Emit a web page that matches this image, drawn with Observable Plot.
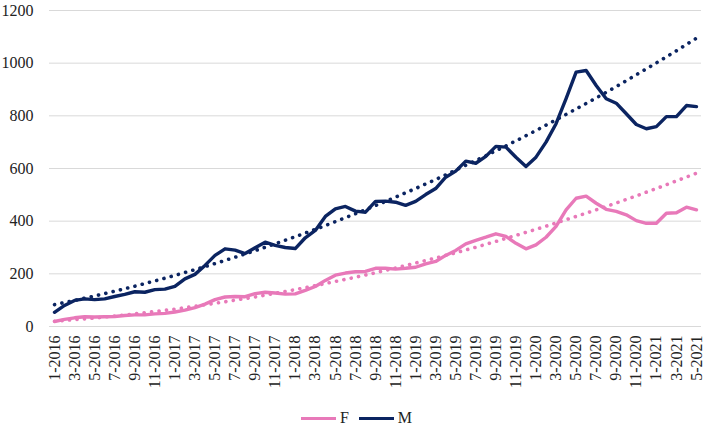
<!DOCTYPE html>
<html>
<head>
<meta charset="utf-8">
<script src="https://cdn.jsdelivr.net/npm/d3@7"></script>
<script src="https://cdn.jsdelivr.net/npm/@observablehq/plot@0.6"></script>
<style>
  html, body { margin: 0; padding: 0; background: #fff; }
  #chart { width: 709px; height: 431px; font-family: "Liberation Serif", "Times New Roman", serif; }
  #chart svg, #chart svg text { font-family: "Liberation Serif", "Times New Roman", serif !important; font-size: 16px !important; }
  #chart svg text { fill: #222; }
  #legend { display: flex; justify-content: center; align-items: center; height: 26px; font-size: 16px; color: #222; gap: 10px; padding-left: 4px; }
  .item { display: flex; align-items: center; }
  .sw { display: inline-block; width: 35px; height: 3px; margin-right: 4px; }
</style>
</head>
<body>
<div id="chart"></div>
<script>
// Month categories (1-2016 .. 5-2021)
const months = [];
for (let y = 2016; y <= 2021; y++) {
  for (let m = 1; m <= 12; m++) {
    if (y === 2021 && m > 5) break;
    months.push(`${m}-${y}`);
  }
}
const seriesNames = ["F", "M"];
const seriesColors = ["#e879b9", "#0b2461"];
const valuesF = [19, 27, 33, 37, 36, 37, 38, 42, 44, 44, 48, 50, 55, 62, 72, 85, 102, 112, 114, 113, 125, 130, 127, 123, 124, 137, 152, 175, 195, 203, 208, 209, 221, 221, 218, 221, 225, 238, 247, 270, 289, 314, 327, 339, 352, 342, 316, 295, 310, 339, 380, 443, 487, 495, 468, 445, 437, 424, 402, 392, 392, 430, 432, 453, 443];
const valuesM = [54, 80, 99, 105, 102, 105, 114, 122, 132, 130, 140, 142, 152, 181, 198, 232, 270, 295, 290, 277, 299, 320, 308, 300, 296, 337, 365, 418, 447, 456, 438, 434, 475, 476, 472, 460, 475, 501, 524, 567, 590, 628, 620, 646, 684, 681, 643, 608, 643, 700, 770, 865, 966, 972, 915, 865, 848, 808, 767, 751, 759, 797, 797, 839, 835];
// Dotted trend lines, read at every labelled month (1-2016, 3-2016, ... 5-2021)
const trendF = [20, 26, 32, 40, 48, 57, 66, 77, 88, 100, 112, 126, 140, 155, 171, 187, 204, 222, 241, 260, 280, 301, 323, 346, 369, 393, 418, 443, 469, 496, 524, 553, 582];
const trendM = [83, 99, 116, 134, 153, 173, 194, 216, 239, 263, 288, 314, 341, 369, 398, 428, 459, 491, 524, 558, 594, 630, 667, 705, 744, 785, 826, 868, 911, 956, 1001, 1047, 1095];
const yTicks = [0, 200, 400, 600, 800, 1000, 1200];

const dataF = valuesF.map((v, i) => ({i, v}));
const dataM = valuesM.map((v, i) => ({i, v}));
const dataTF = trendF.map((v, k) => ({i: 2 * k, v}));
const dataTM = trendM.map((v, k) => ({i: 2 * k, v}));
const xTicks = months.map((m, i) => i).filter(i => i % 2 === 0);

const plot = Plot.plot({
  width: 709,
  height: 405,
  marginLeft: 49,
  marginRight: 8,
  marginTop: 10,
  marginBottom: 79,
  style: { background: "#fff" },
  x: { domain: [-0.5, months.length - 0.5], ticks: xTicks, tickFormat: i => months[i], tickRotate: -90, tickSize: 0, tickPadding: 9, label: null },
  y: { domain: [0, 1200], ticks: yTicks, tickFormat: d => String(d), tickSize: 0, tickPadding: 16, label: null, grid: false },
  marks: [
    Plot.gridY(yTicks, { stroke: "#d9d9d9", strokeOpacity: 1, strokeWidth: 1 }),
    Plot.line(dataF, { x: "i", y: "v", stroke: seriesColors[0], strokeWidth: 3.4, strokeLinejoin: "round" }),
    Plot.line(dataM, { x: "i", y: "v", stroke: seriesColors[1], strokeWidth: 3.4, strokeLinejoin: "round" }),
    Plot.line(dataTF, { x: "i", y: "v", stroke: seriesColors[0], strokeWidth: 3.6, strokeDasharray: "0.1,7.4", strokeLinecap: "round" }),
    Plot.line(dataTM, { x: "i", y: "v", stroke: seriesColors[1], strokeWidth: 3.6, strokeDasharray: "0.1,7.4", strokeLinecap: "round" })
  ]
});
const chart = document.getElementById("chart");
chart.appendChild(plot);

const legend = document.createElement("div");
legend.id = "legend";
seriesNames.forEach((n, k) => {
  const it = document.createElement("div");
  it.className = "item";
  const sw = document.createElement("span");
  sw.className = "sw";
  sw.style.background = seriesColors[k];
  const t = document.createElement("span");
  t.textContent = n;
  it.appendChild(sw);
  it.appendChild(t);
  legend.appendChild(it);
});
chart.appendChild(legend);
</script>
</body>
</html>
